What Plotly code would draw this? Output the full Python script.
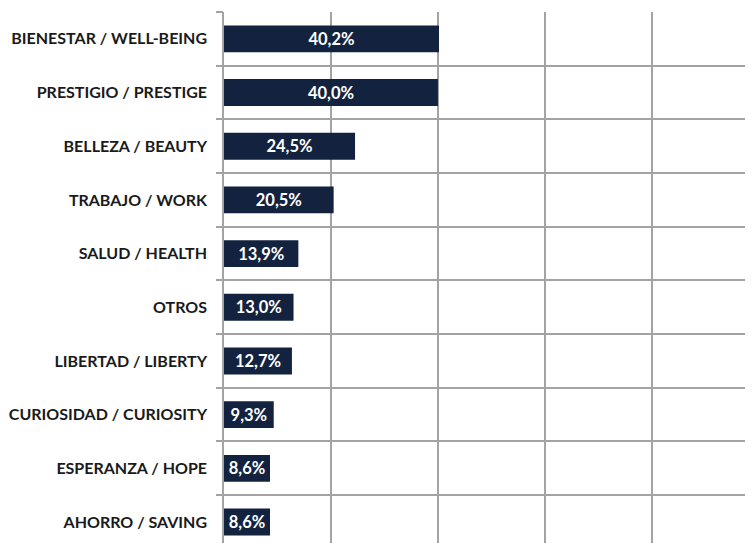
import plotly.graph_objects as go

categories = ["BIENESTAR / WELL-BEING", "PRESTIGIO / PRESTIGE", "BELLEZA / BEAUTY",
              "TRABAJO / WORK", "SALUD / HEALTH", "OTROS", "LIBERTAD / LIBERTY",
              "CURIOSIDAD / CURIOSITY", "ESPERANZA / HOPE", "AHORRO / SAVING"]
values = [40.2, 40.0, 24.5, 20.5, 13.9, 13.0, 12.7, 9.3, 8.6, 8.6]

positions = list(range(len(categories)))
boundaries = [p - 0.5 for p in positions] + [len(categories) - 0.5]
Y_RANGE = [9.54, -0.5]

fig = go.Figure()
fig.add_trace(go.Bar(
    x=values, y=positions, orientation="h",
    marker=dict(color="#13233f", line=dict(width=0)),
    texttemplate="%{x:.1f}%", textposition="inside", insidetextanchor="middle",
    textfont=dict(family="Lato", size=16.5, color="white", weight="bold"),
    cliponaxis=False, hoverinfo="skip",
))
# invisible trace that carries the category-boundary grid axis
fig.add_trace(go.Scatter(
    x=values, y=positions, yaxis="y2", mode="markers",
    marker=dict(opacity=0), hoverinfo="skip", showlegend=False,
))

GRID = "#a3a3a3"
fig.update_layout(
    width=753, height=543,
    margin=dict(l=216, r=0, t=4, b=0, pad=0),
    plot_bgcolor="white", paper_bgcolor="white",
    separators=",.",
    bargap=0.5,
    showlegend=False,
    xaxis=dict(range=[0, 100.4], showticklabels=False, showgrid=True, automargin=False,
               gridcolor=GRID, gridwidth=1.5, dtick=20, zeroline=False,
               showline=False, ticks=""),
    yaxis=dict(range=Y_RANGE, automargin=False,
               tickmode="array", tickvals=positions, ticktext=categories,
               ticks="", showgrid=False, zeroline=False,
               showline=True, linecolor=GRID, linewidth=1.5,
               ticklabelstandoff=12,
               tickfont=dict(family="Lato", size=16, color="#1a1a1a", weight="bold")),
    yaxis2=dict(range=Y_RANGE, overlaying="y", side="left", anchor="x", automargin=False,
                tickmode="array", tickvals=boundaries, showticklabels=False,
                ticks="outside", ticklen=7, tickcolor=GRID, tickwidth=2,
                showgrid=True, gridcolor=GRID, gridwidth=2,
                zeroline=False, showline=False),
)

fig.write_html("out.html")
